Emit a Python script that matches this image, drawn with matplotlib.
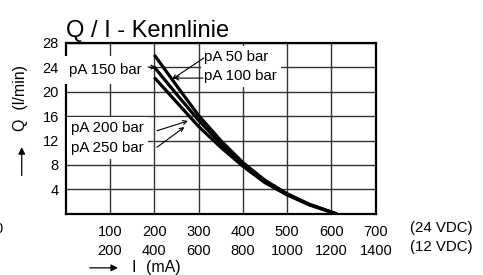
import matplotlib.pyplot as plt

plt.rcParams['font.family'] = ['Liberation Sans', 'DejaVu Sans']

# Kennlinien Q / I (mA bei 24 VDC)
strom_ma = [200, 250, 300, 350, 400, 450, 500, 550, 612]
q_50_100 = [26.0, 21.0, 16.1, 12.0, 8.4, 5.5, 3.3, 1.6, 0.0]
q_150 = [24.0, 19.6, 15.3, 11.5, 8.1, 5.3, 3.2, 1.5, 0.0]
q_200_250 = [22.3, 18.3, 14.3, 10.9, 7.8, 5.1, 3.1, 1.5, 0.0]

ticks_24v = [100, 200, 300, 400, 500, 600, 700]
ticks_12v = [200, 400, 600, 800, 1000, 1200, 1400]
ticks_q = [4, 8, 12, 16, 20, 24, 28]

fig = plt.figure(figsize=(4.83, 2.75), dpi=100)
ax = fig.add_axes([0.136, 0.222, 0.642, 0.623])

for q in (q_50_100, q_150, q_200_250):
    ax.plot(strom_ma, q, color='black', lw=2.3, zorder=5, solid_capstyle='butt')

ax.set_xlim(0, 700)
ax.set_ylim(0, 28)
ax.set_xticks(ticks_24v)
ax.set_xticklabels([f"{a}\n{b}" for a, b in zip(ticks_24v, ticks_12v)])
ax.set_yticks(ticks_q)
ax.set_yticklabels([str(v) for v in ticks_q])
ax.tick_params(length=0, labelsize=10.5, pad=5)
ax.tick_params(axis='x', pad=8)
plt.setp(ax.get_xticklabels(), linespacing=1.45)
ax.set_axisbelow(True)
ax.grid(True, color='#333333', lw=1.0)
for s in ax.spines.values():
    s.set_linewidth(1.6)

ax.set_title("Q / I - Kennlinie", fontsize=17, loc='left', x=0.0, pad=4)

# Beschriftungen mit weissem Hintergrund
box = dict(fc='white', ec='none', pad=3)
ax.text(8, 23.5, "pA 150 bar", fontsize=10.8, va='center', ha='left', bbox=dict(fc='white', ec='none', pad=5), zorder=3)
ax.text(12, 12.45, "pA 200 bar\npA 250 bar", fontsize=10.8, va='center', ha='left', linespacing=1.5, bbox=box, zorder=3)
ax.text(313, 24.1, "pA 50 bar\npA 100 bar", fontsize=10.8, va='center', ha='left', linespacing=1.5, bbox=dict(fc='white', ec='none', pad=2.5), zorder=3)

pfeil = dict(arrowstyle='->', color='black', lw=0.8, shrinkA=0, shrinkB=0, mutation_scale=7)
ax.annotate("", xy=(240, 22.0), xytext=(312, 25.5), arrowprops=pfeil, zorder=4)
ax.annotate("", xy=(244, 22.2), xytext=(310, 22.2), arrowprops=pfeil, zorder=4)
ax.annotate("", xy=(204, 24.0), xytext=(186, 24.0), arrowprops=pfeil, zorder=4)
ax.annotate("", xy=(276, 15.2), xytext=(206, 13.6), arrowprops=pfeil, zorder=4)
ax.annotate("", xy=(268, 14.2), xytext=(206, 10.9), arrowprops=pfeil, zorder=4)

# Einheiten / Achsbeschriftungen
fig.text(0.913, 0.135, "(24 VDC)\n(12 VDC)", fontsize=10.8, ha='center', va='center', linespacing=1.45)
fig.text(0.006, 0.167, "0", fontsize=10.5, ha='right', va='center')
fig.text(0.272, 0.026, "I", fontsize=11.5, ha='left', va='center')
fig.text(0.302, 0.026, "(mA)", fontsize=11.5, ha='left', va='center')
fig.text(0.042, 0.645, "Q  (l/min)", fontsize=11.5, rotation=90, ha='center', va='center')

fig.add_artist(plt.matplotlib.patches.FancyArrowPatch(
    (0.180, 0.026), (0.250, 0.026), transform=fig.transFigure,
    arrowstyle='-|>', mutation_scale=10, color='black', lw=0.9))
fig.add_artist(plt.matplotlib.patches.FancyArrowPatch(
    (0.045, 0.352), (0.045, 0.475), transform=fig.transFigure,
    arrowstyle='-|>', mutation_scale=10, color='black', lw=0.9))

fig.savefig("out.png", dpi=100)
